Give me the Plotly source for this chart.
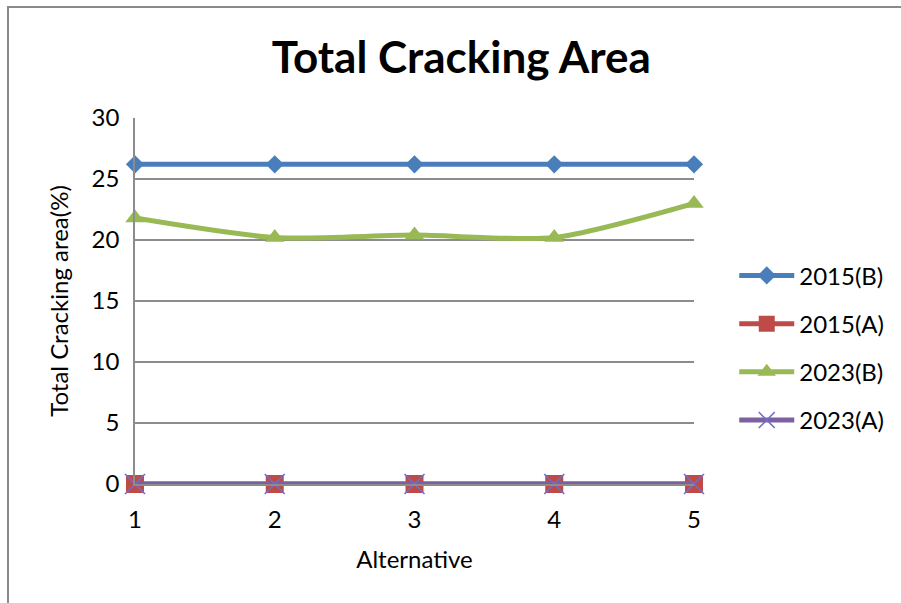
import plotly.graph_objects as go

# Alternatives along the x axis and cracking area (%) for each scenario
alternatives = [1, 2, 3, 4, 5]
area_2015_b = [26.2, 26.2, 26.2, 26.2, 26.2]
area_2015_a = [0, 0, 0, 0, 0]
area_2023_b = [21.8, 20.2, 20.4, 20.2, 23.0]
area_2023_a = [0, 0, 0, 0, 0]
y_ticks = [0, 5, 10, 15, 20, 25, 30]

FONT = "Lato"
GRID = "#8c8c8c"

series = [
    ("2015(B)", area_2015_b, "#4A7EBB", dict(symbol="diamond", size=14), "linear"),
    ("2015(A)", area_2015_a, "#BE4B48", dict(symbol="square", size=18), "linear"),
    ("2023(B)", area_2023_b, "#98B954", dict(symbol="triangle-up", size=17), "spline"),
    ("2023(A)", area_2023_a, "#7D60A0",
     dict(symbol="x-thin", size=20, line=dict(width=1.6, color="#6F6FC8")), "linear"),
]

fig = go.Figure()
for i, (name, vals, color, marker, shape) in enumerate(series):
    fig.add_trace(go.Scatter(
        x=alternatives, y=vals, name=name, mode="lines+markers",
        line=dict(color=color, width=5, shape=shape, smoothing=0.7),
        marker=dict(color=color, **marker),
        cliponaxis=False, legendgroup=f"g{i}",
    ))

fig.update_layout(
    width=901, height=603,
    paper_bgcolor="white", plot_bgcolor="white",
    margin=dict(l=135, r=207, t=118, b=119),
    title=dict(text="<b>Total Cracking Area</b>", x=0.512, xanchor="center",
               y=0.905, yanchor="middle",
               font=dict(family=FONT, size=44, color="black")),
    font=dict(family=FONT, size=24, color="black"),
    legend=dict(x=1.072, y=0.372, xanchor="left", yanchor="middle",
                tracegroupgap=14, itemwidth=55,
                font=dict(family=FONT, size=24, color="black"),
                bgcolor="rgba(0,0,0,0)"),
    xaxis=dict(range=[1, 5], tickvals=alternatives, showgrid=False,
               zeroline=False, showline=True, linecolor=GRID, linewidth=1.5,
               ticks="", ticklabelstandoff=13,
               title=dict(text="Alternative", standoff=20,
                          font=dict(family=FONT, size=24))),
    yaxis=dict(range=[0, 30], tickvals=y_ticks, showgrid=True,
               gridcolor=GRID, gridwidth=1.5, zeroline=False,
               showline=True, linecolor=GRID, linewidth=1.5,
               ticks="", ticklabelstandoff=9,
               title=dict(text="Total Cracking area(%)", standoff=16,
                          font=dict(family=FONT, size=24))),
)

# Outer chart frame
fig.add_shape(type="rect", xref="paper", yref="paper",
              x0=-0.2272, x1=1.5, y0=-0.5, y1=1.3033,
              line=dict(color="#8a8a8a", width=2), layer="below")

fig.write_html("out.html")
